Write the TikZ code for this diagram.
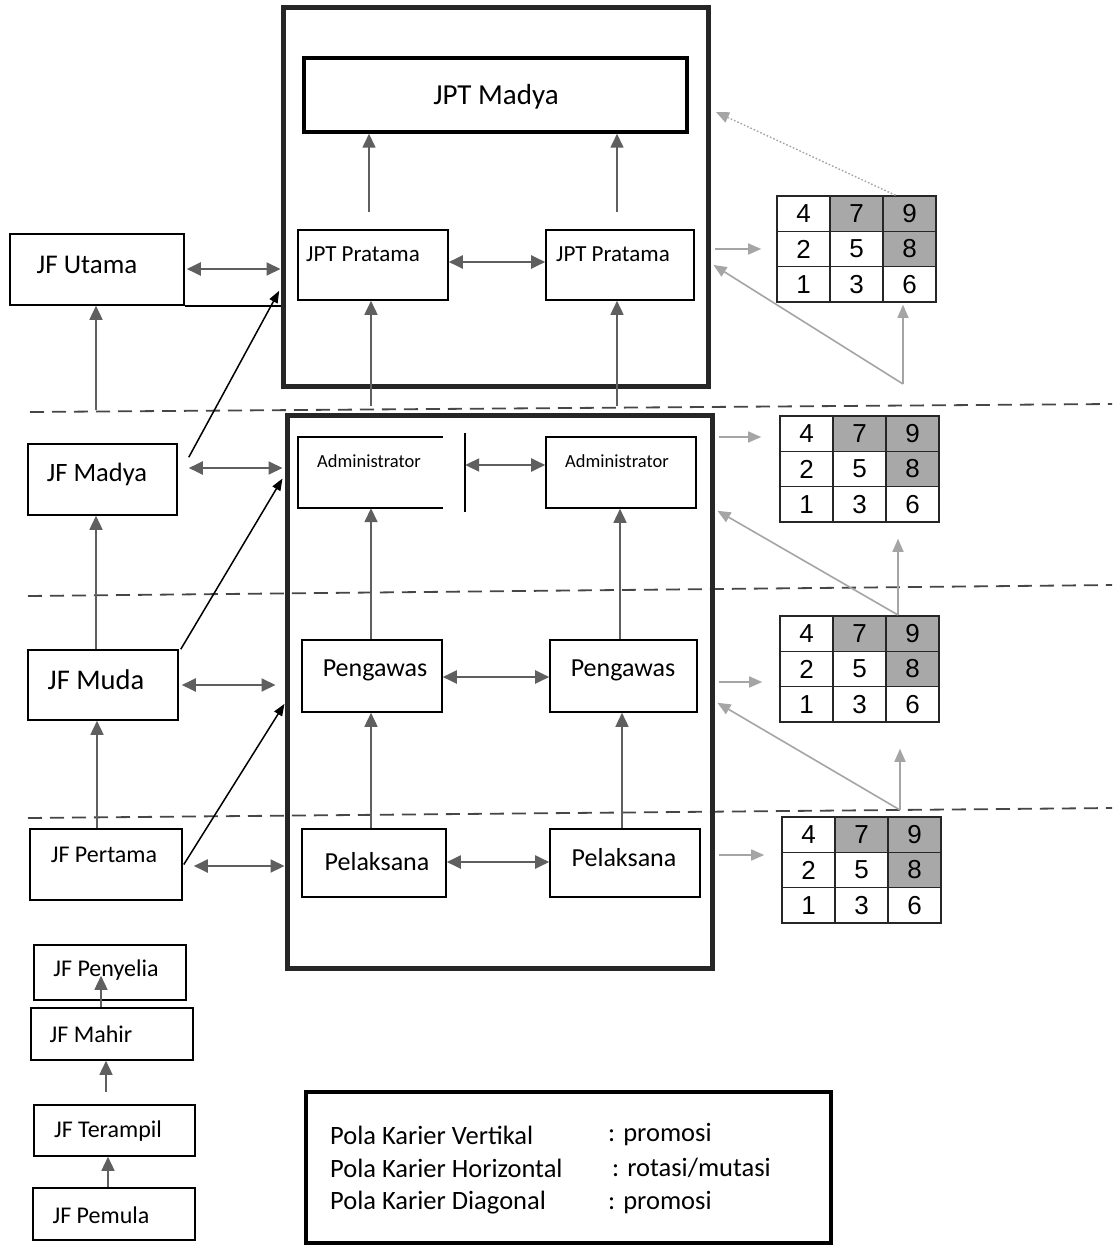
\documentclass[tikz,border=0pt]{standalone}
\usepackage{fontspec}
\setmainfont{Carlito}
\newfontfamily\numfont{Liberation Sans}
\usetikzlibrary{arrows.meta,calc,fit}
\definecolor{shade}{RGB}{168,168,168}
\definecolor{dk}{RGB}{70,70,70}
\definecolor{md}{RGB}{95,95,95}
\definecolor{lt}{RGB}{165,165,165}
\newcommand{\fs}[1]{\fontsize{#1}{#1}\selectfont}
\newcommand{\kgrid}[3]{%
  \foreach \n/\c/\r/\f in {4/0/0/white,7/1/0/shade,9/2/0/shade,2/0/1/white,5/1/1/white,8/2/1/shade,1/0/2/white,3/1/2/white,6/2/2/white}{%
    \node[cell, fill=\f] (#1-\n) at ({#2+26.5+53*\c},{#3+17.7+35.3*\r}) {\n};
  }%
}
\begin{document}
\begin{tikzpicture}[x=1pt,y=-1pt,
  bx/.style={draw=black, line width=1.6pt, inner sep=0pt},
  thick box/.style={draw=black!85, line width=5pt, inner sep=0pt},
  tx/.style={inner sep=0pt, font=\fs{#1}},
  tx/.default=24,
  cell/.style={draw=black!85, line width=1.6pt, minimum width=53pt, minimum height=35.3pt, inner sep=0pt, font=\numfont\fs{26}},
  darr/.style={{Triangle[length=14pt,width=13pt]}-{Triangle[length=14pt,width=13pt]}, draw=md, line width=2pt},
  varr/.style={-{Triangle[length=14pt,width=13pt]}, draw=md, line width=1.6pt},
  diag/.style={-{Triangle[length=12pt,width=9pt]}, draw=black, line width=1.5pt},
  garr/.style={-{Triangle[length=13pt,width=11pt]}, draw=lt, line width=1.6pt},
  dline/.style={draw=dk, line width=1.8pt, dash pattern=on 14pt off 8pt}
]
\useasboundingbox[fill=white] (0,0) rectangle (1112,1246);

% dashed level lines
\coordinate (d1a) at (30,412); \coordinate (d1b) at (1112,404);
\coordinate (d2a) at (28,596); \coordinate (d2b) at (1112,585);
\coordinate (d3a) at (28,818); \coordinate (d3b) at (1112,808);
\draw[dline] (d1a) -- (d1b);
\draw[dline] (d2a) -- (d2b);
\draw[dline] (d3a) -- (d3b);

% outer boxes
\node[thick box, fit={(283,8)(708,386)}] (outer1) {};
\node[thick box, fit={(287,415)(712,968)}] (outer2) {};

% JPT Madya
\node[draw=black, line width=3.5pt, inner sep=0pt, fill=white, fit={(304,58)(687,132)}] (jptM) {};
\node[tx=29] (jptMt) at (496,97) {JPT Madya};

% JPT Pratama
\node[bx, fill=white, fit={(298,230)(448,300)}] (jptL) {};
\node[tx=23] (jptLt) at (363,254) {JPT Pratama};
\node[bx, fill=white, fit={(546,230)(694,300)}] (jptR) {};
\node[tx=23] (jptRt) at (613,254) {JPT Pratama};

% Administrator
\node[inner sep=0pt, fit={(298,437)(465,508)}] (admL) {};
\draw[black, line width=1.6pt] (443,437) -- (298,437) -- (298,508) -- (443,508);
\draw[black, line width=1.6pt] ($(admL.north east)+(0,-4)$) -- ($(admL.south east)+(0,4)$);
\node[tx=18.5] (admLt) at (369,461) {Administrator};
\node[bx, fill=white, fit={(546,437)(696,508)}] (admR) {};
\node[tx=18.5] (admRt) at (617,461) {Administrator};

% Pengawas
\node[bx, fit={(302,640)(442,712)}] (pengL) {};
\node[tx=26] (pengLt) at (375,670) {Pengawas};
\node[bx, fit={(550,640)(697,712)}] (pengR) {};
\node[tx=26] (pengRt) at (623,670) {Pengawas};

% Pelaksana
\node[bx, fit={(302,829)(446,897)}] (pelL) {};
\node[tx=26] (pelLt) at (377,862) {Pelaksana};
\node[bx, fit={(550,829)(700,897)}] (pelR) {};
\node[tx=26] (pelRt) at (624,858) {Pelaksana};

% JF boxes
\node[bx, fit={(10,234)(184,305)}] (utama) {};
\node[tx=27] (utamat) at (87,265) {JF Utama};
\node[bx, fit={(28,444)(177,515)}] (madya) {};
\node[tx=26.5] (madyat) at (97,474) {JF Madya};
\node[bx, fit={(28,650)(178,720)}] (muda) {};
\node[tx=28.5] (mudat) at (96,680) {JF Muda};
\node[bx, fit={(30,829)(182,900)}] (pertama) {};
\node[tx=24] (pertamat) at (104,855) {JF Pertama};
\node[bx, fit={(34,945)(186,1000)}] (penyelia) {};
\node[tx=24] (penyeliat) at (106,970) {JF Penyelia};
\node[bx, fit={(31,1008)(193,1060)}] (mahir) {};
\node[tx=24] (mahirt) at (91,1034) {JF Mahir};
\node[bx, fit={(34,1105)(195,1156)}] (terampil) {};
\node[tx=24] (terampilt) at (108,1131) {JF Terampil};
\node[bx, fit={(33,1188)(195,1240)}] (pemula) {};
\node[tx=24] (pemulat) at (101,1215) {JF Pemula};

% legend
\node[draw=black, line width=3.5pt, inner sep=0pt, fit={(306,1092)(831,1243)}] (legend) {};
\node[tx=26.5, anchor=west] (l1) at (330,1135) {Pola Karier Vertikal};
\node[tx=26.5, anchor=west] (l2) at (330,1168) {Pola Karier Horizontal};
\node[tx=26.5, anchor=west] (l3) at (330,1203) {Pola Karier Diagonal};
\node[tx=26.5, anchor=west] (r1) at (608,1135) {: promosi};
\node[tx=26.5, anchor=west] (r2) at (612,1168) {: rotasi/mutasi};
\node[tx=26.5, anchor=west] (r3) at (608,1203) {: promosi};

% grids
\kgrid{g1}{777}{196}
\kgrid{g2}{780}{416}
\kgrid{g3}{780}{616}
\kgrid{g4}{782}{817}

% vertical promotions inside
\draw[varr] ($(jptL.north -| 369,0)+(0,-17)$) -- (jptM.south -| 369,0);
\draw[varr] ($(jptR.north -| 617,0)+(0,-17)$) -- (jptM.south -| 617,0);
\draw[varr] ($(outer2.north -| 371,0)+(0,-7)$) -- (jptL.south -| 371,0);
\draw[varr] ($(outer2.north -| 617,0)+(0,-7)$) -- (jptR.south -| 617,0);
\draw[varr] (pengL.north -| 371,0) -- (admL.south -| 371,0);
\draw[varr] (pengR.north -| 620,0) -- (admR.south -| 620,0);
\draw[varr] (pelL.north -| 371,0) -- (pengL.south -| 371,0);
\draw[varr] (pelR.north -| 622,0) -- (pengR.south -| 622,0);

% horizontal
\draw[darr] (jptL.east |- 0,262) -- (jptR.west |- 0,262);
\draw[darr] (admL.east |- 0,465) -- (admR.west |- 0,465);
\draw[darr] (pengL.east |- 0,677) -- (pengR.west |- 0,677);
\draw[darr] (pelL.east |- 0,862) -- (pelR.west |- 0,862);

\draw[darr, shorten <=2pt] (utama.east |- 0,269) -- (outer1.west |- 0,269);
\draw[black, line width=1.6pt] (utama.south east) -- (outer1.west |- utama.south east);
\draw[darr, shorten <=11pt, shorten >=2pt] (madya.east |- 0,468) -- (outer2.west |- 0,468);
\draw[darr, shorten <=3pt, shorten >=9pt] (muda.east |- 0,685) -- (outer2.west |- 0,685);
\draw[darr, shorten <=11pt] (pertama.east |- 0,866) -- (outer2.west |- 0,866);

% JF vertical
\draw[varr] (madya.north -| 96,0) ++(0,-33) coordinate (mv) -- (utama.south -| 96,0);
\draw[varr] (muda.north -| 96,0) -- (madya.south -| 96,0);
\draw[varr] (pertama.north -| 97,0) -- (muda.south -| 97,0);
\draw[varr] (mahir.north -| 101,0) -- ($(penyelia.south -| 101,0)+(0,-25)$);
\draw[varr] ($(terampil.north -| 106,0)+(0,-12)$) -- (mahir.south -| 106,0);
\draw[varr] (pemula.north -| 108,0) -- (terampil.south -| 108,0);

% diagonal
\draw[diag] ($(madya.north east)+(11,14)$) -- ($(jptL.south west)+(-18,-10)$);
\draw[diag] ($(muda.north east)+(2,0)$) -- ($(outer2.west |- admL.west)+(-2,6)$);
\draw[diag] ($(pertama.east)+(1,0)$) -- ($(outer2.west |- pengL.south)+(0,-9)$);

% right side gray arrows
\coordinate (t1) at (716,112);
\coordinate (c1) at (903,384);
\coordinate (c2) at (898,615);
\coordinate (c3) at (900,810);
\draw[garr, dotted, line width=1.4pt, -{Triangle[length=13pt,width=11pt]}] ($(g1-9.north)+(-14,0)$) -- (t1);
\draw[garr, shorten <=4pt, shorten >=15pt] (outer1.east |- g1-2.west) -- (g1-2.west);
\draw[garr] (c1) -- ($(outer1.east |- jptR.east)+(3,0)$);
\draw[garr, shorten >=2pt] (c1) -- (c1 |- g1-6.south);
\draw[garr, shorten <=4pt, shorten >=18pt] (outer2.east |- 0,437) -- (g2-4.west |- 0,437);
\draw[garr] (c2) -- ($(outer2.east |- admR.south)+(3,2)$);
\draw[garr, shorten >=16pt] (c2) -- (c2 |- g2-6.south);
\draw[garr, shorten <=4pt, shorten >=17pt] (outer2.east |- 0,682) -- (g3-2.west |- 0,682);
\draw[garr] (c3) -- ($(outer2.east |- pengR.south)+(3,-10)$);
\draw[garr, shorten >=26pt] (c3) -- (c3 |- g3-6.south);
\draw[garr, shorten <=4pt, shorten >=17pt] (outer2.east |- 0,855) -- (g4-2.west |- 0,855);
\end{tikzpicture}
\end{document}
